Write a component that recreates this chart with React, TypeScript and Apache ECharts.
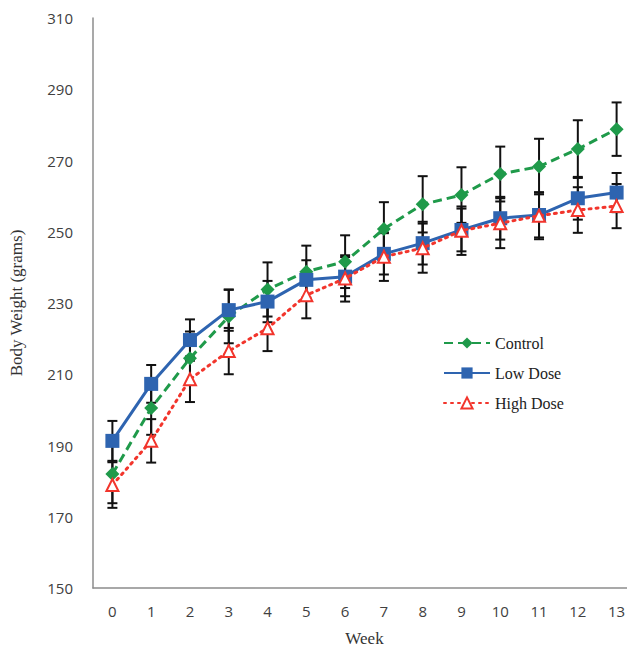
import React, { useEffect, useRef } from "react";
import * as echarts from "echarts";

const weeks = ["0", "1", "2", "3", "4", "5", "6", "7", "8", "9", "10", "11", "12", "13"];
const control = [182, 200.5, 214.5, 226.2, 233.8, 238.8, 241.6, 250.8, 257.7, 260.3, 266.2, 268.3, 273.2, 278.8];
const controlErr = [8.2, 7.5, 7.5, 7.5, 7.6, 7.3, 7.4, 7.5, 7.9, 7.8, 7.7, 7.8, 8.1, 7.5];
const lowDose = [191.3, 207.3, 219.6, 228.0, 230.4, 236.5, 237.4, 243.8, 246.8, 250.5, 253.8, 254.7, 259.4, 261.0];
const lowDoseErr = [5.6, 5.3, 5.8, 5.8, 5.8, 5.5, 5.5, 5.8, 6.0, 6.0, 6.0, 6.3, 6.0, 5.5];
const highDose = [178.9, 191.3, 208.6, 216.5, 222.9, 232.2, 236.9, 243.0, 245.4, 250.3, 252.4, 254.5, 256.1, 257.2];
const highDoseErr = [6.4, 6.1, 6.4, 6.5, 6.4, 6.5, 6.5, 6.8, 6.9, 6.8, 7.0, 6.6, 6.4, 6.2];

const GREEN = "#1f9a4a";
const BLUE = "#2e64b0";
const RED = "#f2352c";

function errData(vals: number[], errs: number[]) {
  return vals.map((v, i) => [i, v - errs[i], v + errs[i]]);
}

function errorSeries(vals: number[], errs: number[]) {
  return {
    type: "custom",
    silent: true,
    z: 1,
    encode: { x: 0, y: [1, 2] },
    data: errData(vals, errs),
    renderItem: (params: any, api: any) => {
      const x = api.value(0);
      const lo = api.coord([x, api.value(1)]);
      const hi = api.coord([x, api.value(2)]);
      const w = 5;
      const style = { stroke: "#111", lineWidth: 2 };
      return {
        type: "group",
        children: [
          { type: "line", shape: { x1: lo[0], y1: lo[1], x2: hi[0], y2: hi[1] }, style },
          { type: "line", shape: { x1: lo[0] - w, y1: lo[1], x2: lo[0] + w, y2: lo[1] }, style },
          { type: "line", shape: { x1: hi[0] - w, y1: hi[1], x2: hi[0] + w, y2: hi[1] }, style },
        ],
      };
    },
  };
}

export default function App() {
  const ref = useRef<HTMLDivElement>(null);
  useEffect(() => {
    if (!ref.current) return;
    const chart = echarts.init(ref.current, null, { renderer: "svg" });
    const sans = "'Open Sans', 'Liberation Sans', sans-serif";
    const serif = "'Liberation Serif', 'DejaVu Serif', serif";
    chart.setOption({
      animation: false,
      backgroundColor: "#ffffff",
      grid: { left: 93, top: 18, width: 543, height: 570, outerBoundsMode: "none", containLabel: false },
      legend: {
        data: ["Control", "Low Dose", "High Dose"],
        orient: "vertical",
        left: 438,
        top: 330,
        itemWidth: 46,
        itemHeight: 14,
        itemGap: 14,
        textStyle: { fontFamily: serif, fontSize: 16, color: "#222" },
      },
      xAxis: {
        type: "category",
        data: weeks,
        boundaryGap: true,
        name: "Week",
        nameLocation: "middle",
        nameGap: 42,
        nameTextStyle: { fontFamily: serif, fontSize: 17, color: "#333" },
        axisLine: { lineStyle: { color: "#8c8c8c", width: 1.5 } },
        axisTick: { show: false },
        axisLabel: { fontFamily: sans, fontSize: 15, color: "#404040", margin: 15 },
        splitLine: { show: false },
      },
      yAxis: {
        type: "value",
        min: 150,
        max: 310,
        interval: 20,
        name: "Body Weight (grams)",
        nameLocation: "middle",
        nameGap: 68,
        nameRotate: 90,
        nameTextStyle: { fontFamily: serif, fontSize: 17, color: "#333" },
        axisLine: { show: true, lineStyle: { color: "#8c8c8c", width: 1.5 } },
        axisTick: { show: false },
        axisLabel: { fontFamily: sans, fontSize: 15, color: "#404040", margin: 20 },
        splitLine: { show: false },
      },
      series: [
        errorSeries(control, controlErr),
        errorSeries(lowDose, lowDoseErr),
        errorSeries(highDose, highDoseErr),
        {
          type: "line",
          name: "Control",
          data: control,
          z: 3,
          symbol: "diamond",
          symbolSize: 14,
          itemStyle: { color: GREEN },
          lineStyle: { color: GREEN, width: 3, type: [9, 5] },
        },
        {
          type: "line",
          name: "Low Dose",
          data: lowDose,
          z: 4,
          symbol: "rect",
          symbolSize: 14,
          itemStyle: { color: BLUE },
          lineStyle: { color: BLUE, width: 3 },
        },
        {
          type: "line",
          name: "High Dose",
          data: highDose,
          z: 5,
          symbol: "triangle",
          symbolSize: 12,
          itemStyle: { color: "#ffffff", borderColor: RED, borderWidth: 2 },
          lineStyle: { color: RED, width: 3, type: [2, 5], cap: "round" },
        },
      ],
    });
    return () => chart.dispose();
  }, []);
  return (
    <div
      ref={ref}
      style={{ position: "fixed", left: 0, top: 0, width: 627, height: 653, background: "#fff" }}
    />
  );
}
